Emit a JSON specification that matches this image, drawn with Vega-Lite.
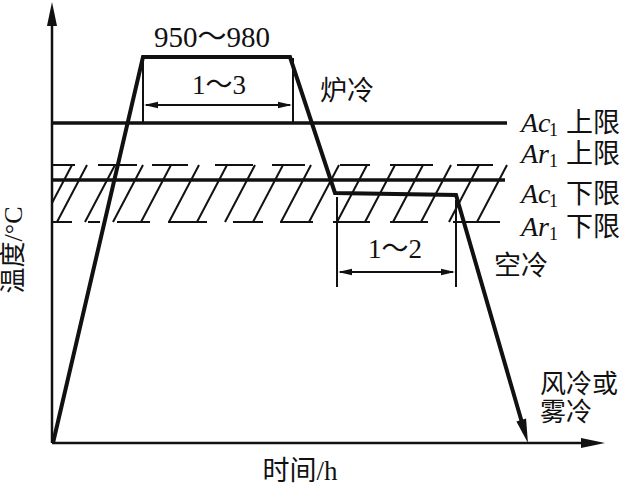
{
  "$schema": "https://vega.github.io/schema/vega-lite/v6.json",
  "width": 630,
  "height": 498,
  "autosize": {"type": "fit", "contains": "padding"},
  "padding": 0,
  "background": "white",
  "config": {"view": {"stroke": null}},
  "datasets": {
    "segs": [
      {"kind": "axis", "x": 52, "y": 443, "x2": 52, "y2": 20},
      {"kind": "axis", "x": 52, "y": 443, "x2": 595, "y2": 443},
      {"kind": "limit", "x": 52, "y": 123, "x2": 507, "y2": 123},
      {"kind": "limit", "x": 52, "y": 180, "x2": 505, "y2": 180},
      {"kind": "dim", "x": 143, "y": 58, "x2": 143, "y2": 123},
      {"kind": "dim", "x": 293, "y": 58, "x2": 293, "y2": 123},
      {"kind": "dim", "x": 146, "y": 105, "x2": 290, "y2": 105},
      {"kind": "dim", "x": 337, "y": 197, "x2": 337, "y2": 287},
      {"kind": "dim", "x": 456, "y": 200, "x2": 456, "y2": 287},
      {"kind": "dim", "x": 340, "y": 272, "x2": 453, "y2": 272},
      {"kind": "hatch", "x": 52, "y": 203, "x2": 72, "y2": 165},
      {"kind": "hatch", "x": 57, "y": 222, "x2": 87, "y2": 165},
      {"kind": "hatch", "x": 85, "y": 222, "x2": 115, "y2": 165},
      {"kind": "hatch", "x": 113, "y": 222, "x2": 143, "y2": 165},
      {"kind": "hatch", "x": 141, "y": 222, "x2": 171, "y2": 165},
      {"kind": "hatch", "x": 169, "y": 222, "x2": 199, "y2": 165},
      {"kind": "hatch", "x": 197, "y": 222, "x2": 227, "y2": 165},
      {"kind": "hatch", "x": 225, "y": 222, "x2": 255, "y2": 165},
      {"kind": "hatch", "x": 253, "y": 222, "x2": 283, "y2": 165},
      {"kind": "hatch", "x": 281, "y": 222, "x2": 311, "y2": 165},
      {"kind": "hatch", "x": 309, "y": 222, "x2": 339, "y2": 165},
      {"kind": "hatch", "x": 337, "y": 222, "x2": 367, "y2": 165},
      {"kind": "hatch", "x": 365, "y": 222, "x2": 395, "y2": 165},
      {"kind": "hatch", "x": 393, "y": 222, "x2": 423, "y2": 165},
      {"kind": "hatch", "x": 421, "y": 222, "x2": 451, "y2": 165},
      {"kind": "hatch", "x": 449, "y": 222, "x2": 479, "y2": 165},
      {"kind": "hatch", "x": 477, "y": 222, "x2": 507, "y2": 165},
      {"kind": "hatch", "x": 52, "y": 165, "x2": 75, "y2": 165},
      {"kind": "hatch", "x": 98, "y": 165, "x2": 137, "y2": 165},
      {"kind": "hatch", "x": 152, "y": 165, "x2": 188, "y2": 165},
      {"kind": "hatch", "x": 215, "y": 165, "x2": 253, "y2": 165},
      {"kind": "hatch", "x": 272, "y": 165, "x2": 305, "y2": 165},
      {"kind": "hatch", "x": 340, "y": 165, "x2": 370, "y2": 165},
      {"kind": "hatch", "x": 390, "y": 165, "x2": 433, "y2": 165},
      {"kind": "hatch", "x": 457, "y": 165, "x2": 493, "y2": 165},
      {"kind": "hatch", "x": 53, "y": 222, "x2": 72, "y2": 222},
      {"kind": "hatch", "x": 88, "y": 222, "x2": 100, "y2": 222},
      {"kind": "hatch", "x": 117, "y": 222, "x2": 150, "y2": 222},
      {"kind": "hatch", "x": 168, "y": 222, "x2": 207, "y2": 222},
      {"kind": "hatch", "x": 233, "y": 222, "x2": 263, "y2": 222},
      {"kind": "hatch", "x": 280, "y": 222, "x2": 313, "y2": 222},
      {"kind": "hatch", "x": 333, "y": 222, "x2": 370, "y2": 222},
      {"kind": "hatch", "x": 390, "y": 222, "x2": 428, "y2": 222},
      {"kind": "hatch", "x": 453, "y": 222, "x2": 500, "y2": 222}
    ],
    "curve": [
      {"step": 1, "x": 53, "y": 443},
      {"step": 2, "x": 143, "y": 57},
      {"step": 3, "x": 290, "y": 57},
      {"step": 4, "x": 335, "y": 193},
      {"step": 5, "x": 456, "y": 195},
      {"step": 6, "x": 525, "y": 433}
    ],
    "arrows": [
      {"kind": "big", "x": 52, "y": 14, "heading": 0},
      {"kind": "big", "x": 593, "y": 443, "heading": 90},
      {"kind": "big", "x": 524.6, "y": 431.5, "heading": 163.7},
      {"kind": "small", "x": 151, "y": 105, "heading": 270},
      {"kind": "small", "x": 285, "y": 105, "heading": 90},
      {"kind": "small", "x": 345, "y": 272, "heading": 270},
      {"kind": "small", "x": 448, "y": 272, "heading": 90}
    ],
    "labels": [
      {"kind": "big", "x": 212, "y": 38, "text": "950～980"},
      {"kind": "center", "x": 219, "y": 86, "text": "1～3"},
      {"kind": "center", "x": 347, "y": 92, "text": "炉冷"},
      {"kind": "center", "x": 395, "y": 250, "text": "1～2"},
      {"kind": "center", "x": 521, "y": 267, "text": "空冷"},
      {"kind": "center", "x": 300, "y": 472, "text": "时间/h"},
      {"kind": "cool", "x": 540, "y": 385, "text": "风冷或"},
      {"kind": "cool", "x": 540, "y": 413, "text": "雾冷"},
      {"kind": "left", "x": 566, "y": 124, "text": "上限"},
      {"kind": "left", "x": 566, "y": 155, "text": "上限"},
      {"kind": "left", "x": 566, "y": 195, "text": "下限"},
      {"kind": "left", "x": 566, "y": 228, "text": "下限"},
      {"kind": "ital", "x": 521, "y": 124, "text": "Ac"},
      {"kind": "ital", "x": 521, "y": 155, "text": "Ar"},
      {"kind": "ital", "x": 521, "y": 195, "text": "Ac"},
      {"kind": "ital", "x": 521, "y": 228, "text": "Ar"},
      {"kind": "sub", "x": 549, "y": 131, "text": "1"},
      {"kind": "sub", "x": 549, "y": 162, "text": "1"},
      {"kind": "sub", "x": 549, "y": 202, "text": "1"},
      {"kind": "sub", "x": 549, "y": 235, "text": "1"},
      {"kind": "vertical", "x": 14, "y": 250, "text": "温度/°C"}
    ]
  },
  "encoding": {
    "x": {"field": "x", "type": "quantitative", "scale": {"domain": [0, 630], "nice": false, "zero": false}, "axis": null},
    "y": {"field": "y", "type": "quantitative", "scale": {"domain": [0, 498], "nice": false, "zero": false, "reverse": true}, "axis": null}
  },
  "layer": [
    {
      "data": {"name": "segs"},
      "transform": [{"filter": "datum.kind === 'hatch'"}],
      "mark": {"type": "rule", "color": "#111", "strokeWidth": 2},
      "encoding": {"x2": {"field": "x2"}, "y2": {"field": "y2"}}
    },
    {
      "data": {"name": "segs"},
      "transform": [{"filter": "datum.kind === 'dim'"}],
      "mark": {"type": "rule", "color": "#111", "strokeWidth": 2},
      "encoding": {"x2": {"field": "x2"}, "y2": {"field": "y2"}}
    },
    {
      "data": {"name": "segs"},
      "transform": [{"filter": "datum.kind === 'axis'"}],
      "mark": {"type": "rule", "color": "#111", "strokeWidth": 2.5},
      "encoding": {"x2": {"field": "x2"}, "y2": {"field": "y2"}}
    },
    {
      "data": {"name": "segs"},
      "transform": [{"filter": "datum.kind === 'limit'"}],
      "mark": {"type": "rule", "color": "#111", "strokeWidth": 3.5},
      "encoding": {"x2": {"field": "x2"}, "y2": {"field": "y2"}}
    },
    {
      "data": {"name": "curve"},
      "mark": {"type": "line", "color": "#111", "strokeWidth": 4, "strokeJoin": "miter"},
      "encoding": {"order": {"field": "step", "type": "quantitative"}}
    },
    {
      "data": {"name": "arrows"},
      "transform": [{"filter": "datum.kind === 'big'"}],
      "mark": {"type": "point", "shape": "M0,-1L0.42,1L-0.42,1Z", "filled": true, "color": "#111", "opacity": 1, "size": 576, "strokeWidth": 0},
      "encoding": {"angle": {"field": "heading", "type": "quantitative", "scale": null}}
    },
    {
      "data": {"name": "arrows"},
      "transform": [{"filter": "datum.kind === 'small'"}],
      "mark": {"type": "point", "shape": "M0,-1L0.45,1L-0.45,1Z", "filled": true, "color": "#111", "opacity": 1, "size": 196, "strokeWidth": 0},
      "encoding": {"angle": {"field": "heading", "type": "quantitative", "scale": null}}
    },
    {
      "data": {"name": "labels"},
      "transform": [{"filter": "datum.kind === 'big'"}],
      "mark": {"type": "text", "font": "Liberation Serif, Noto Sans CJK SC", "fontSize": 29, "align": "center", "baseline": "middle", "color": "#111"},
      "encoding": {"text": {"field": "text"}}
    },
    {
      "data": {"name": "labels"},
      "transform": [{"filter": "datum.kind === 'center'"}],
      "mark": {"type": "text", "font": "Liberation Serif, Noto Sans CJK SC", "fontSize": 27, "align": "center", "baseline": "middle", "color": "#111"},
      "encoding": {"text": {"field": "text"}}
    },
    {
      "data": {"name": "labels"},
      "transform": [{"filter": "datum.kind === 'cool'"}],
      "mark": {"type": "text", "font": "Liberation Serif, Noto Sans CJK SC", "fontSize": 26, "align": "left", "baseline": "middle", "color": "#111"},
      "encoding": {"text": {"field": "text"}}
    },
    {
      "data": {"name": "labels"},
      "transform": [{"filter": "datum.kind === 'left'"}],
      "mark": {"type": "text", "font": "Liberation Serif, Noto Sans CJK SC", "fontSize": 27, "align": "left", "baseline": "middle", "color": "#111"},
      "encoding": {"text": {"field": "text"}}
    },
    {
      "data": {"name": "labels"},
      "transform": [{"filter": "datum.kind === 'ital'"}],
      "mark": {"type": "text", "font": "Liberation Serif", "fontStyle": "italic", "fontSize": 28, "align": "left", "baseline": "middle", "color": "#111"},
      "encoding": {"text": {"field": "text"}}
    },
    {
      "data": {"name": "labels"},
      "transform": [{"filter": "datum.kind === 'sub'"}],
      "mark": {"type": "text", "font": "Liberation Serif", "fontSize": 18, "align": "left", "baseline": "middle", "color": "#111"},
      "encoding": {"text": {"field": "text"}}
    },
    {
      "data": {"name": "labels"},
      "transform": [{"filter": "datum.kind === 'vertical'"}],
      "mark": {"type": "text", "font": "Liberation Serif, Noto Sans CJK SC", "fontSize": 26, "align": "center", "baseline": "middle", "angle": 270, "color": "#111"},
      "encoding": {"text": {"field": "text"}}
    }
  ]
}
